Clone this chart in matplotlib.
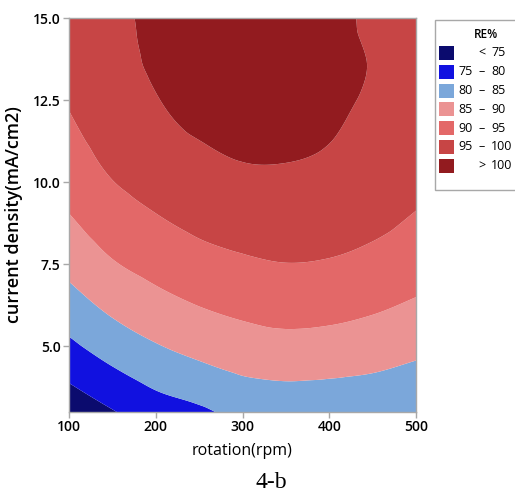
import numpy as np
import matplotlib
matplotlib.use("Agg")
import matplotlib.pyplot as plt
import matplotlib.tri as mtri
from matplotlib.patches import Rectangle

# ---- data ----
rotation = [100, 150, 200, 250, 300, 350, 400, 450, 500]          # rpm
current_density = [3.0, 4.5, 6.0, 7.5, 9.0, 10.5, 12.0, 13.5, 15.0]  # mA/cm2
# RE% on the grid: one list per rotation, one value per current density
re_100 = [71.6, 77.3, 82.2, 86.4, 89.9, 92.7, 94.8, 96.2, 96.8]
re_150 = [74.7, 80.4, 85.4, 89.6, 93.0, 95.7, 97.6, 98.8, 99.1]
re_200 = [77.6, 83.0, 87.7, 91.6, 94.9, 97.4, 99.4, 100.4, 100.7]
re_250 = [79.2, 84.8, 89.4, 93.3, 96.4, 98.8, 100.9, 101.6, 101.8]
re_300 = [81.3, 86.3, 90.6, 94.3, 97.3, 99.85, 101.4, 102.5, 102.9]
re_350 = [81.7, 86.9, 91.3, 94.9, 97.8, 99.9, 101.3, 102.0, 101.9]
re_400 = [81.5, 86.6, 91.0, 94.6, 97.5, 99.4, 100.6, 101.5, 101.4]
re_450 = [81.0, 86.0, 90.1, 93.6, 96.4, 98.2, 99.1, 99.8, 99.2]
re_500 = [80.1, 84.8, 88.8, 92.2, 94.8, 96.8, 98.0, 98.6, 98.5]

levels = [75, 80, 85, 90, 95, 100]
level_colors = ["#0b0b6e", "#1111e0", "#7ba7da", "#eb9393",
                "#e36868", "#c74545", "#921b1f"]

# ---- build the field ----
columns = [re_100, re_150, re_200, re_250, re_300, re_350, re_400, re_450, re_500]
Z = np.array(columns).T            # shape (n_cd, n_rot)
X, Y = np.meshgrid(rotation, current_density)
xs = (X.ravel() - 100) / 400.0     # normalised for a well-shaped triangulation
ys = (Y.ravel() - 3) / 12.0
tri = mtri.Triangulation(xs, ys)
refiner = mtri.UniformTriRefiner(tri)
interp = mtri.CubicTriInterpolator(tri, Z.ravel(), kind="geom")
tri_f, z_f = refiner.refine_field(Z.ravel(), triinterpolator=interp, subdiv=4)
tri_f = mtri.Triangulation(tri_f.x * 400 + 100, tri_f.y * 12 + 3, tri_f.triangles)

# ---- figure ----
W, H = 515, 491
fig = plt.figure(figsize=(W / 100, H / 100), dpi=100)
ax = fig.add_axes([69 / W, 1 - 412 / H, (416 - 69) / W, (412 - 18) / H])

bounds = [-1000] + levels + [1000]
ax.tricontourf(tri_f, z_f, levels=bounds, colors=level_colors, antialiased=True)

ax.set_xlim(100, 500)
ax.set_ylim(3, 15)
ax.set_xticks([100, 200, 300, 400, 500])
ax.set_yticks([5.0, 7.5, 10.0, 12.5, 15.0])
ax.set_yticklabels(["5.0", "7.5", "10.0", "12.5", "15.0"])
for s in ax.spines.values():
    s.set_color("#a8a8a8")
    s.set_linewidth(1.0)
ax.tick_params(colors="#a8a8a8", length=4, width=1, labelcolor="black", pad=2)
for lab in ax.get_xticklabels() + ax.get_yticklabels():
    lab.set_fontfamily(["Open Sans", "DejaVu Sans"])
    lab.set_fontsize(10)
    lab.set_fontweight("semibold")

ax.set_xlabel("rotation(rpm)", family=["Open Sans", "DejaVu Sans"], fontsize=11.5,
              labelpad=6)
ax.set_ylabel("current density(mA/cm2)", family=["Open Sans", "DejaVu Sans"],
              fontsize=13, weight="semibold")
ax.yaxis.set_label_coords(-(69 - 23) / (416 - 69), 0.5)

fig.text(271 / W, 1 - 482 / H, "4-b", family=["Liberation Serif", "DejaVu Serif"],
         fontsize=17, ha="center", va="center")

# ---- legend (manual, frame runs off the figure edge like the reference) ----
def fx(px):
    return px / W

def fy(py):
    return 1 - py / H

fig.add_artist(Rectangle((fx(435), fy(190)), fx(120), (190 - 20) / H,
                         transform=fig.transFigure, facecolor="white",
                         edgecolor="#a8a8a8", linewidth=1.0))
fig.text(fx(486), fy(34), "RE%", family=["Open Sans", "DejaVu Sans"],
         fontsize=8.5, weight="semibold", ha="center", va="center")
lf = dict(family=["Open Sans", "DejaVu Sans"], fontsize=9, va="center")
n = len(level_colors)
for i in range(n):
    cy = 53 + 18.8 * i
    fig.add_artist(Rectangle((fx(439), fy(cy + 7)), fx(15), 14 / H,
                             transform=fig.transFigure, facecolor=level_colors[i],
                             edgecolor="none"))
    if i == 0:
        fig.text(fx(482), fy(cy), "<", ha="center", **lf)
        fig.text(fx(491), fy(cy), f"{levels[0]}", ha="left", **lf)
    elif i == n - 1:
        fig.text(fx(482), fy(cy), ">", ha="center", **lf)
        fig.text(fx(491), fy(cy), f"{levels[-1]}", ha="left", **lf)
    else:
        fig.text(fx(473), fy(cy), f"{levels[i - 1]}", ha="right", **lf)
        fig.text(fx(482), fy(cy), "–", ha="center", **lf)
        fig.text(fx(491), fy(cy), f"{levels[i]}", ha="left", **lf)

fig.savefig("out.png", dpi=100)
